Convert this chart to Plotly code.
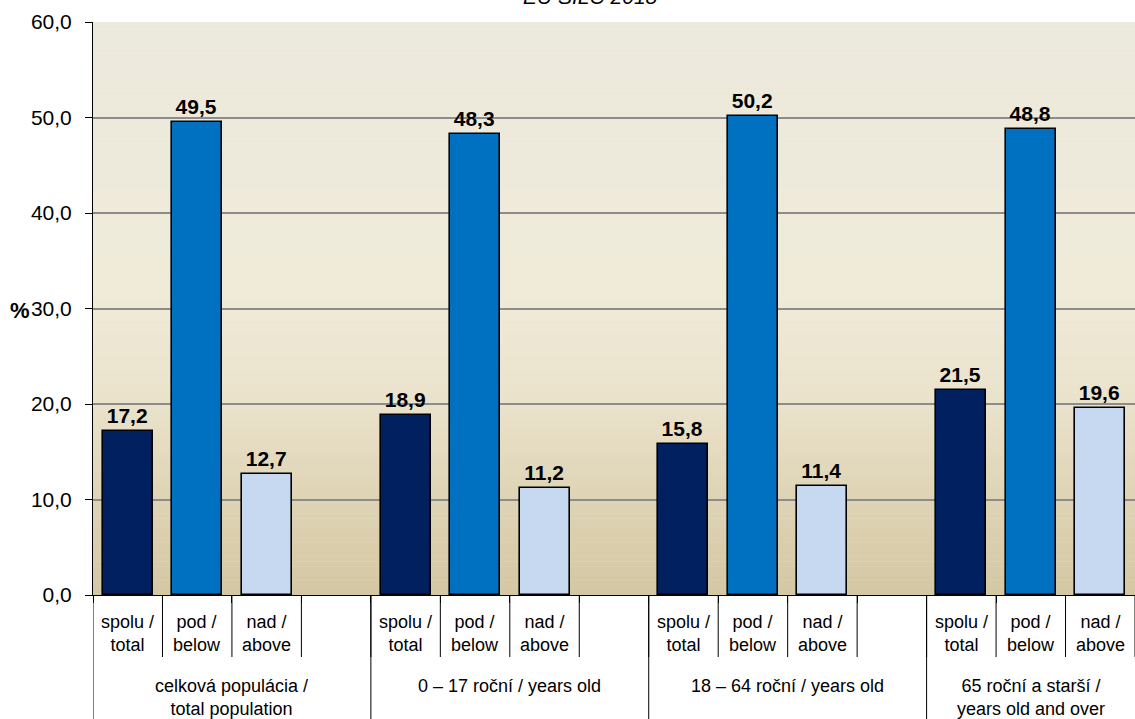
import plotly.graph_objects as go

# ---- data ----
groups = ["celková populácia /<br>total population",
          "0 – 17 roční / years old",
          "18 – 64 roční / years old",
          "65 roční a starší /<br>years old and over"]
subcats = ["spolu /<br>total", "pod /<br>below", "nad /<br>above"]
spolu = [17.2, 18.9, 15.8, 21.5]
pod = [49.5, 48.3, 50.2, 48.8]
nad = [12.7, 11.2, 11.4, 19.6]
yticks = [0, 10, 20, 30, 40, 50, 60]
title_text = "EU SILC 2018"

series = [spolu, pod, nad]
colors = ["#002060", "#0070C0", "#C6D9F1"]
FONT = "Liberation Sans, Arial, sans-serif"

W, H = 1135, 719
ML, MR, MT, MB = 93, 0, 22, 124
plot_h = H - MT - MB
plot_w = W - ML - MR
nslots = 4 * (len(groups) - 1) + len(subcats)


def py(pix):
    # page pixel row -> paper y
    return (595 - pix) / plot_h


def px(pix):
    return (pix - 93) / plot_w


fig = go.Figure()

for k, vals in enumerate(series):
    xs = [4 * g + k + 0.5 for g in range(len(vals))]
    fig.add_trace(go.Bar(
        x=xs, y=vals, width=0.72,
        marker=dict(color=colors[k], line=dict(color="black", width=1.6)),
        texttemplate="<b>%{y:.1f}</b>", textposition="outside",
        textfont=dict(family=FONT, size=21, color="black"),
        cliponaxis=False, showlegend=False, hoverinfo="skip"))

shapes = []
# background gradient
stops = [(0, (212, 199, 163)), (10, (222, 211, 180)), (20, (234, 226, 203)),
         (32, (240, 235, 217)), (60, (236, 233, 221))]


def col_at(v):
    for (a, ca), (b, cb) in zip(stops[:-1], stops[1:]):
        if a <= v <= b:
            t = (v - a) / (b - a)
            return tuple(round(ca[i] + (cb[i] - ca[i]) * t) for i in range(3))
    return stops[-1][1]


nb = 120
for i in range(nb):
    y0 = 60 * i / nb
    y1 = 60 * (i + 1) / nb
    c = col_at((y0 + y1) / 2)
    shapes.append(dict(type="rect", xref="paper", yref="y", x0=0, x1=1,
                       y0=y0, y1=y1 + 0.02, layer="below", line=dict(width=0),
                       fillcolor="rgb(%d,%d,%d)" % c))

# category separators and labels
annotations = []
for g in range(len(groups)):
    start = 4 * g
    end = min(4 * g + 4, nslots)
    shapes.append(dict(type="line", xref="x", yref="paper", x0=start, x1=start,
                       y0=0, y1=py(719), line=dict(color="black", width=1)))
    for s in range(start + 1, min(start + 4, nslots) + 1):
        shapes.append(dict(type="line", xref="x", yref="paper", x0=s, x1=s,
                           y0=0, y1=py(657), line=dict(color="black", width=1)))
    annotations.append(dict(xref="x", yref="paper", x=(start + end) / 2, y=py(674),
                            yanchor="top", xanchor="center", showarrow=False,
                            text=groups[g], font=dict(family=FONT, size=18, color="black")))
    for k in range(len(subcats)):
        annotations.append(dict(xref="x", yref="paper", x=start + k + 0.5, y=py(610),
                                yanchor="top", xanchor="center", showarrow=False,
                                text=subcats[k], font=dict(family=FONT, size=18, color="black")))

annotations.append(dict(xref="paper", yref="paper", x=px(20), y=py(310),
                        xanchor="center", yanchor="middle", showarrow=False,
                        text="<b>%</b>", font=dict(family=FONT, size=22, color="black")))
annotations.append(dict(xref="paper", yref="paper", x=px(590), y=py(10),
                        xanchor="center", yanchor="bottom", showarrow=False,
                        text="<i>" + title_text + "</i>",
                        font=dict(family=FONT, size=21, color="black")))

fig.update_layout(
    width=W, height=H,
    margin=dict(l=ML, r=MR, t=MT, b=MB, pad=0),
    paper_bgcolor="white", plot_bgcolor="#E8E2CC",
    separators=",.",
    bargap=0,
    shapes=shapes, annotations=annotations,
    xaxis=dict(range=[0, nslots], tickvals=list(range(nslots + 1)),
               showticklabels=False, ticks="outside", ticklen=7,
               tickcolor="black", tickwidth=1, showgrid=False, zeroline=False,
               showline=True, linecolor="black", linewidth=1, fixedrange=True),
    yaxis=dict(range=[0, 60], tickvals=yticks, tickformat=".1f",
               ticks="outside", ticklen=7, tickcolor="black", tickwidth=1,
               showgrid=True, gridcolor="#8C8C8C", gridwidth=1.6,
               zeroline=False, showline=True, linecolor="black", linewidth=1,
               tickfont=dict(family=FONT, size=21, color="black"), ticklabelstandoff=9),
)

fig.write_html("out.html",
               config={"displayModeBar": False},
               post_script="document.body.style.margin='0';document.body.style.overflow='hidden';")
